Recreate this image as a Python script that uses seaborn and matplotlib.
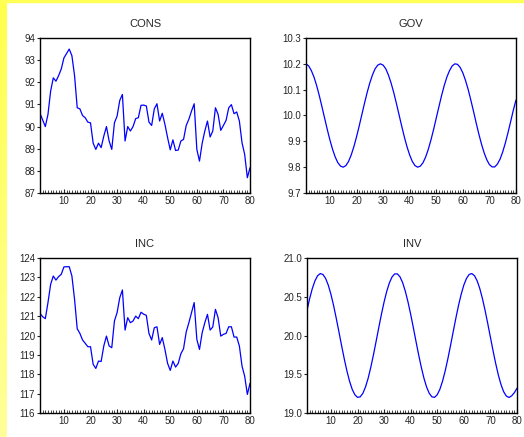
import matplotlib
matplotlib.use("Agg")
import matplotlib.pyplot as plt
from matplotlib.patches import Rectangle
from matplotlib.colors import LinearSegmentedColormap
from matplotlib.ticker import MultipleLocator, FormatStrFormatter
import numpy as np
import pandas as pd
import seaborn as sns

# observation index 1..80
periods = list(range(1, 81))

cons = [90.6, 90.3, 90.0, 90.55, 91.6, 92.2, 92.05, 92.3, 92.6, 93.1,
        93.3, 93.5, 93.2, 92.3, 90.85, 90.8, 90.5, 90.4, 90.2, 90.17,
        89.25, 88.97, 89.25, 89.05, 89.57, 90.0, 89.35, 88.97, 90.17, 90.47,
        91.18, 91.45, 89.35, 90.0, 89.8, 90.0, 90.36, 90.4, 90.96, 90.97,
        90.93, 90.2, 90.05, 90.8, 91.03, 90.25, 90.6, 90.1, 89.5, 88.95,
        89.4, 88.92, 88.94, 89.35, 89.42, 90.05, 90.33, 90.7, 91.03, 88.97,
        88.44, 89.24, 89.8, 90.25, 89.53, 89.8, 90.85, 90.55, 89.83, 90.05,
        90.28, 90.85, 90.99, 90.58, 90.66, 90.25, 89.27, 88.74, 87.69, 88.14]

gov = [10.200, 10.192, 10.174, 10.149, 10.116, 10.077, 10.034, 9.990, 9.946, 9.905,
       9.869, 9.839, 9.817, 9.804, 9.800, 9.806, 9.822, 9.847, 9.879, 9.917,
       9.959, 10.003, 10.047, 10.089, 10.126, 10.157, 10.181, 10.195, 10.200, 10.195,
       10.181, 10.157, 10.126, 10.089, 10.047, 10.003, 9.959, 9.917, 9.879, 9.847,
       9.822, 9.806, 9.800, 9.804, 9.817, 9.839, 9.869, 9.905, 9.946, 9.990,
       10.034, 10.077, 10.116, 10.149, 10.174, 10.192, 10.200, 10.198, 10.186, 10.165,
       10.136, 10.101, 10.060, 10.017, 9.972, 9.929, 9.890, 9.856, 9.829, 9.810,
       9.801, 9.801, 9.812, 9.831, 9.859, 9.894, 9.934, 9.977, 10.021, 10.060]

inc = [121.14, 120.97, 120.87, 121.7, 122.64, 123.07, 122.86, 123.04, 123.16, 123.54,
       123.55, 123.55, 123.07, 121.87, 120.35, 120.11, 119.77, 119.6, 119.42, 119.42,
       118.51, 118.3, 118.68, 118.66, 119.46, 119.97, 119.46, 119.37, 120.75, 121.18,
       121.95, 122.35, 120.28, 120.92, 120.66, 120.75, 121.0, 120.87, 121.2, 121.1,
       121.04, 120.1, 119.77, 120.4, 120.45, 119.54, 119.89, 119.28, 118.56, 118.2,
       118.68, 118.37, 118.56, 119.06, 119.32, 120.18, 120.66, 121.18, 121.7, 119.8,
       119.28, 120.14, 120.66, 121.09, 120.28, 120.44, 121.35, 120.92, 119.97, 120.06,
       120.11, 120.45, 120.45, 119.92, 119.92, 119.46, 118.42, 117.9, 116.96, 117.53]

inv = [20.324, 20.477, 20.606, 20.706, 20.772, 20.799, 20.787, 20.737, 20.650, 20.532,
       20.387, 20.223, 20.049, 19.872, 19.701, 19.545, 19.411, 19.306, 19.236, 19.202,
       19.208, 19.253, 19.335, 19.448, 19.590, 19.751, 19.925, 20.102, 20.274, 20.433,
       20.570, 20.680, 20.756, 20.795, 20.795, 20.756, 20.680, 20.570, 20.432, 20.274,
       20.102, 19.924, 19.751, 19.590, 19.448, 19.334, 19.253, 19.208, 19.202, 19.236,
       19.307, 19.412, 19.545, 19.701, 19.872, 20.049, 20.224, 20.388, 20.532, 20.651,
       20.737, 20.788, 20.799, 20.772, 20.706, 20.606, 20.476, 20.323, 20.154, 19.977,
       19.802, 19.636, 19.488, 19.365, 19.273, 19.218, 19.200, 19.222, 19.262, 19.320]

titles = ["CONS", "GOV", "INC", "INV"]
y_limits = [(87, 94), (9.7, 10.3), (116, 124), (19.0, 21.0)]
y_steps = [1, 0.1, 1, 0.5]
y_formats = ["%d", "%.1f", "%d", "%.1f"]

sns.set_style("white")
plt.rcParams["font.family"] = ["Liberation Sans", "DejaVu Sans"]

df = pd.DataFrame({"t": periods, "CONS": cons, "GOV": gov, "INC": inc, "INV": inv})

fig = plt.figure(figsize=(5.24, 4.37), dpi=100)
W, H = 524, 437

# yellow window border: gradient strip on the left, thin strip on top
strip = fig.add_axes([0, 0, 7 / W, 1])
strip.imshow(np.linspace(0, 1, 64).reshape(-1, 1), aspect="auto",
             cmap=LinearSegmentedColormap.from_list("yl", ["#ffff4d", "#ffff99"]))
strip.set_axis_off()
fig.patches.append(Rectangle((0, 1 - 1.5 / H), 1, 1.5 / H, transform=fig.transFigure,
                             color="#ffff55", zorder=0))

boxes = [(40, 38), (306, 38), (40, 258), (307, 258)]
for name, (x0, y0), lim, step, fmt in zip(titles, boxes, y_limits, y_steps, y_formats):
    ax = fig.add_axes([x0 / W, 1 - (y0 + 155) / H, 210 / W, 155 / H])
    sns.lineplot(data=df, x="t", y=name, ax=ax, color="#0000ff", linewidth=0.9)
    ax.set_xlim(1, 80)
    ax.set_ylim(*lim)
    ax.set_xticks(range(10, 81, 10))
    ax.xaxis.set_minor_locator(MultipleLocator(1))
    ax.yaxis.set_major_locator(MultipleLocator(step))
    ax.yaxis.set_major_formatter(FormatStrFormatter(fmt))
    ax.tick_params(axis="x", which="major", direction="in", length=3, width=0.8,
                   labelsize=7, pad=2, bottom=True)
    ax.tick_params(axis="x", which="minor", direction="in", length=2, width=0.6, bottom=True)
    ax.tick_params(axis="y", which="major", direction="out", length=2.5, width=0.8,
                   labelsize=7, pad=1, left=True)
    for s in ax.spines.values():
        s.set_color("black")
        s.set_linewidth(1.0)
    ax.set_xlabel("")
    ax.set_ylabel("")
    ax.set_title(name, fontsize=8, pad=8)

fig.savefig("out.png", dpi=100, facecolor="white")
